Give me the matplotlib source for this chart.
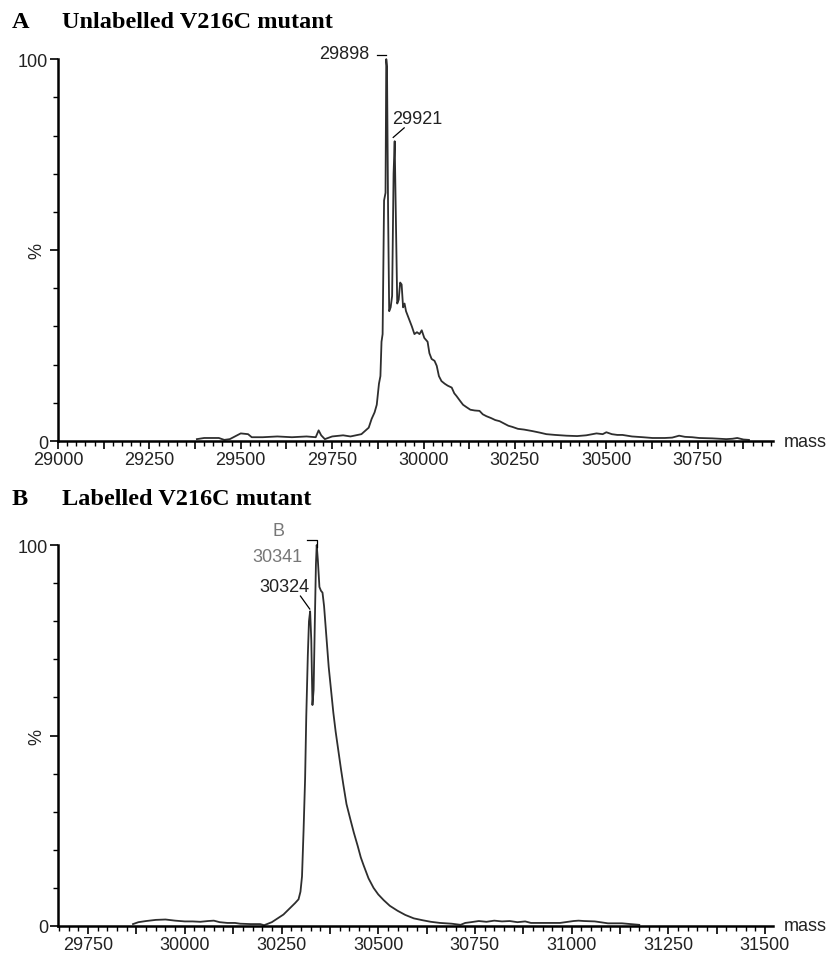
import matplotlib
matplotlib.use('Agg')

import numpy as np
import matplotlib.pyplot as plt
from matplotlib.ticker import MultipleLocator, FuncFormatter

# panel A - unlabelled V216C mutant (mass, relative intensity %)
massA = [29380, 29400, 29440, 29455, 29470, 29490, 29500, 29520, 29530, 29560,
         29600, 29640, 29680, 29705, 29713, 29720, 29730, 29750, 29780, 29800,
         29830, 29850, 29858, 29866, 29872, 29878, 29882, 29885, 29888, 29892,
         29896, 29898, 29900, 29903, 29906, 29910, 29914, 29918, 29921, 29924,
         29928, 29932, 29936, 29940, 29944, 29948, 29952, 29960, 29968, 29975,
         29982, 29989, 29995, 30002, 30011, 30016, 30022, 30030, 30036, 30042,
         30049, 30058, 30066, 30077, 30084, 30090, 30100, 30108, 30117, 30128,
         30140, 30153, 30162, 30172, 30185, 30196, 30208, 30220, 30232, 30243,
         30258, 30275, 30298, 30318, 30336, 30360, 30391, 30420, 30445, 30462,
         30473, 30490, 30500, 30515, 30530, 30544, 30570, 30600, 30626, 30660,
         30680, 30699, 30715, 30735, 30754, 30790, 30828, 30845, 30858, 30875,
         30890]
intA = [0.5, 0.8, 0.8, 0.3, 0.5, 1.5, 2.0, 1.8, 1.0, 1.0,
        1.2, 1.0, 1.2, 1.0, 2.8, 1.5, 0.5, 1.2, 1.5, 1.2,
        1.8, 3.5, 5.8, 7.5, 9.5, 15, 17, 26, 28, 63,
        65, 100, 98, 60, 34, 35, 38, 70, 78.5, 60,
        36, 37, 41.5, 41, 35, 36, 34, 32, 30, 28,
        28.5, 28, 29, 27, 26, 23, 21.5, 21, 19.7, 17,
        15.7, 15, 14.5, 14, 12.5, 11.8, 10.5, 9.5, 8.9, 8.2,
        8.0, 7.9, 7.0, 6.5, 6.0, 5.5, 5.2, 4.6, 4.0, 3.7,
        3.2, 3.0, 2.6, 2.2, 1.8, 1.6, 1.4, 1.3, 1.5, 1.8,
        2.0, 1.8, 2.3, 1.8, 1.6, 1.6, 1.2, 1.0, 0.8, 0.8,
        0.9, 1.4, 1.1, 1.0, 0.8, 0.7, 0.5, 0.6, 0.8, 0.4,
        0.3]

# panel B - labelled V216C mutant
massB = [29866, 29880, 29900, 29925, 29950, 29975, 30000, 30020, 30040, 30060,
         30075, 30090, 30110, 30130, 30143, 30170, 30195, 30205, 30215, 30225,
         30240, 30255, 30270, 30285, 30294, 30299, 30303, 30307, 30311, 30314,
         30318, 30321, 30324, 30327, 30330, 30333, 30336, 30339, 30341, 30344,
         30348, 30352, 30356, 30360, 30366, 30372, 30378, 30384, 30390, 30397,
         30404, 30410, 30418, 30428, 30437, 30447, 30455, 30462, 30475, 30488,
         30500, 30514, 30530, 30550, 30570, 30592, 30615, 30636, 30660, 30690,
         30713, 30725, 30740, 30760, 30780, 30800, 30820, 30840, 30860, 30880,
         30895, 30930, 30970, 31005, 31018, 31032, 31060, 31094, 31130, 31175]
intB = [0.5, 1.0, 1.3, 1.6, 1.7, 1.4, 1.2, 1.2, 1.1, 1.3,
        1.4, 1.0, 0.8, 0.8, 0.6, 0.5, 0.5, 0.2, 0.6, 1.0,
        2.0, 3.0, 4.5, 6.0, 7.0, 9, 13, 25, 38.7, 55,
        71, 80, 82.6, 75, 58, 62, 79, 95, 100, 96,
        89, 88, 87.5, 84, 76, 68, 62, 56, 51, 46,
        41, 37, 32, 28, 24.5, 21, 18, 16, 12.5, 10,
        8.3, 6.8, 5.3, 4.0, 2.9, 2.0, 1.5, 1.1, 0.8, 0.6,
        0.3, 0.8, 1.0, 1.3, 1.1, 1.4, 1.2, 1.3, 1.0, 1.2,
        0.8, 0.8, 0.8, 1.3, 1.4, 1.3, 1.2, 0.7, 0.7, 0.3]

xlimA = (29000, 30955)
xlimB = (29672, 31520)

TICK_FONT = 'Liberation Sans'
FS = 13
TRACE = '#2e2e2e'
TXT = '#222222'


def _setup_ax(ax, xlim):
    for s in ['top', 'right']:
        ax.spines[s].set_visible(False)
    ax.spines['left'].set_linewidth(1.8)
    ax.spines['bottom'].set_linewidth(1.8)
    ax.set_xlim(*xlim)
    ax.set_ylim(0, 100)

    ax.xaxis.set_major_locator(MultipleLocator(125))
    ax.xaxis.set_minor_locator(MultipleLocator(25))
    ax.xaxis.set_major_formatter(FuncFormatter(lambda v, p: '%d' % v if v % 250 == 0 else ''))
    ax.set_yticks([0, 50, 100])
    ax.set_yticklabels(['0', '', '100'])
    ax.yaxis.set_minor_locator(MultipleLocator(10))

    ax.tick_params(axis='both', which='major', direction='out', length=6, width=1.2,
                   labelsize=FS, colors='black', pad=1)
    ax.tick_params(axis='both', which='minor', direction='out', length=3.5, width=1.0)
    for lab in ax.get_xticklabels() + ax.get_yticklabels():
        lab.set_fontfamily(TICK_FONT)
        lab.set_color(TXT)

    ax.text(-0.018, 0.5, '%', transform=ax.transAxes, rotation=90, fontsize=FS,
            family=TICK_FONT, ha='right', va='center', color=TXT)
    ax.text(1.015, 0.0, 'mass', transform=ax.transAxes, fontsize=FS,
            family=TICK_FONT, ha='left', va='center', color=TXT)


fig = plt.figure(figsize=(8.34, 9.62), dpi=100)

axA = fig.add_axes([0.0695, 0.5405, 0.857, 0.397])
axB = fig.add_axes([0.0695, 0.0364, 0.857, 0.396])

# panel A
axA.plot(massA, intA, color=TRACE, linewidth=1.3, clip_on=False)
_setup_ax(axA, xlimA)
axA.plot([29872, 29898], [101, 101], color='black', linewidth=0.9, clip_on=False)
axA.text(29853, 101.5, '29898', ha='right', va='center', fontsize=FS, family=TICK_FONT, color=TXT)
axA.plot([29917, 29947], [79.5, 82], color='black', linewidth=0.9, clip_on=False)
axA.text(29915, 84.5, '29921', ha='left', va='center', fontsize=FS, family=TICK_FONT, color=TXT)

# panel B
axB.plot(massB, intB, color=TRACE, linewidth=1.3, clip_on=False)
_setup_ax(axB, xlimB)
axB.plot([30316, 30343, 30343], [101.3, 101.3, 99.5], color='black', linewidth=0.9, clip_on=False)
axB.text(30242, 103.7, 'B', ha='center', va='center', fontsize=FS, family=TICK_FONT, color='#777777')
axB.text(30304, 97, '30341', ha='right', va='center', fontsize=FS, family=TICK_FONT, color='#777777')
axB.plot([30299, 30323], [86.6, 83.2], color='black', linewidth=0.9, clip_on=False)
axB.text(30322, 89.2, '30324', ha='right', va='center', fontsize=FS, family=TICK_FONT, color=TXT)

# panel titles
TFS = 17.5
fig.text(12 / 834, 1 - 23 / 962, 'A', fontsize=TFS, fontweight='bold', family='Liberation Serif', va='center')
fig.text(62 / 834, 1 - 23 / 962, 'Unlabelled V216C mutant', fontsize=TFS, fontweight='bold',
         family='Liberation Serif', va='center')
fig.text(12 / 834, 1 - 500 / 962, 'B', fontsize=TFS, fontweight='bold', family='Liberation Serif', va='center')
fig.text(62 / 834, 1 - 500 / 962, 'Labelled V216C mutant', fontsize=TFS, fontweight='bold',
         family='Liberation Serif', va='center')

fig.savefig('out.png', dpi=100)
